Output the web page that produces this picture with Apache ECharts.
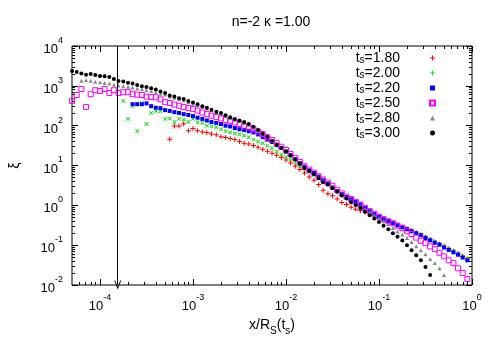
<!DOCTYPE html>
<html><head><meta charset="utf-8">
<script src="https://cdn.jsdelivr.net/npm/echarts@6/dist/echarts.min.js"></script>
<style>html,body{margin:0;padding:0;background:#fff}#c{width:500px;height:350px}</style>
</head><body><div id="c"></div>
<script>
// x / R_S(t_s) sample positions (shared by all series)
const xValues = [
  5.01e-5, 5.62e-5, 6.31e-5, 7.08e-5, 7.94e-5, 8.91e-5,
  1.00e-4, 1.12e-4, 1.26e-4, 1.41e-4, 1.58e-4, 1.78e-4, 2.00e-4, 2.24e-4, 2.51e-4, 2.82e-4,
  3.16e-4, 3.55e-4, 3.98e-4, 4.47e-4, 5.01e-4, 5.62e-4, 6.31e-4, 7.08e-4, 7.94e-4, 8.91e-4,
  1.00e-3, 1.12e-3, 1.26e-3, 1.41e-3, 1.58e-3, 1.78e-3, 2.00e-3, 2.24e-3, 2.51e-3, 2.82e-3,
  3.16e-3, 3.55e-3, 3.98e-3, 4.47e-3, 5.01e-3, 5.62e-3, 6.31e-3, 7.08e-3, 7.94e-3, 8.91e-3,
  1.00e-2, 1.12e-2, 1.26e-2, 1.41e-2, 1.58e-2, 1.78e-2, 2.00e-2, 2.24e-2, 2.51e-2, 2.82e-2,
  3.16e-2, 3.55e-2, 3.98e-2, 4.47e-2, 5.01e-2, 5.62e-2, 6.31e-2, 7.08e-2, 7.94e-2, 8.91e-2,
  0.100, 0.112, 0.126, 0.141, 0.158, 0.178, 0.200, 0.224, 0.251, 0.282,
  0.316, 0.355, 0.398, 0.447, 0.501, 0.562, 0.631, 0.708, 0.794, 0.891
];

const seriesNames = ['1.80', '2.00', '2.20', '2.50', '2.80', '3.00'];

// log10(xi), aligned with xValues (null = no point)
const log10Xi_ts180 = [
  null,null,null,null,null,null,null,null,null,null,
  null,null,null,null,null,null,null,null,null,null,
  null,1.66,1.99,1.99,2.05,1.87,1.93,1.87,1.84,1.83,
  1.79,1.77,1.72,1.70,1.68,1.65,1.60,1.56,1.54,1.50,
  1.46,1.41,1.36,1.31,1.26,1.20,1.14,1.06,0.98,0.90,
  0.81,0.71,0.63,0.52,0.38,0.29,0.24,0.16,0.07,0.02,
  -0.05,-0.10,-0.13,-0.17,-0.21,-0.25,-0.30,-0.35,-0.40,-0.45,
  -0.50,-0.54,-0.59,-0.64,-0.69,-0.74,-0.80,-0.86,-0.92,-0.97,
  -1.03,-1.09,-1.15,-1.21,-1.28,-1.35
];
const log10Xi_ts200 = [
  null,null,null,null,null,null,null,null,null,null,
  null,2.62,2.17,2.49,1.86,2.57,2.04,2.32,2.37,2.36,
  2.17,2.18,2.09,2.17,2.15,2.10,2.17,2.08,2.07,2.00,
  1.98,1.96,1.91,1.86,1.83,1.80,1.78,1.75,1.71,1.65,
  1.60,1.56,1.50,1.43,1.35,1.27,1.21,1.14,1.06,0.98,
  0.91,0.83,0.76,0.67,0.59,0.52,0.44,0.36,0.29,0.22,
  0.15,0.08,0.02,-0.06,-0.14,-0.21,-0.28,-0.34,-0.39,-0.44,
  -0.49,-0.54,-0.59,-0.64,-0.69,-0.74,-0.80,-0.86,-0.92,-0.97,
  -1.03,-1.09,-1.15,-1.21,-1.28,-1.34
];
const log10Xi_ts220 = [
  null,null,null,null,null,null,null,null,null,null,
  null,null,null,2.54,2.54,2.54,2.56,2.49,2.45,2.44,
  2.39,2.37,2.34,2.32,2.29,2.27,2.24,2.20,2.17,2.13,
  2.09,2.07,2.04,2.00,1.98,1.94,1.91,1.89,1.86,1.83,
  1.78,1.71,1.65,1.59,1.51,1.44,1.35,1.26,1.16,1.06,
  0.97,0.88,0.81,0.72,0.63,0.55,0.45,0.36,0.28,0.21,
  0.15,0.09,0.02,-0.07,-0.15,-0.22,-0.29,-0.35,-0.40,-0.45,
  -0.50,-0.55,-0.60,-0.65,-0.70,-0.75,-0.82,-0.88,-0.94,-0.99,
  -1.06,-1.12,-1.18,-1.24,-1.31,-1.38
];
const log10Xi_ts250 = [
  2.62,2.77,2.92,2.47,2.79,2.89,2.87,2.92,2.82,2.89,
  2.82,2.84,2.84,2.79,2.78,2.77,2.73,2.72,2.71,2.66,
  2.59,2.57,2.53,2.50,2.47,2.44,2.42,2.38,2.33,2.29,
  2.25,2.22,2.18,2.14,2.12,2.08,2.04,2.00,1.96,1.91,
  1.85,1.79,1.71,1.64,1.56,1.47,1.39,1.29,1.19,1.09,
  0.98,0.90,0.82,0.73,0.65,0.57,0.49,0.39,0.30,0.22,
  0.16,0.09,0.02,-0.06,-0.14,-0.21,-0.28,-0.34,-0.40,-0.45,
  -0.51,-0.57,-0.65,-0.72,-0.81,-0.89,-0.95,-1.03,-1.10,-1.19,
  -1.28,-1.38,-1.45,-1.58,-1.70,-1.85
];
const log10Xi_ts280 = [
  null,null,3.13,3.14,3.13,3.10,3.09,3.07,3.06,3.03,
  3.01,2.99,2.98,2.96,2.93,2.92,2.89,2.87,2.84,2.80,
  2.78,2.73,2.70,2.67,2.64,2.59,2.55,2.52,2.47,2.43,
  2.39,2.34,2.29,2.24,2.19,2.15,2.12,2.07,2.02,1.95,
  1.88,1.80,1.72,1.63,1.54,1.45,1.36,1.26,1.16,1.06,
  0.96,0.88,0.80,0.71,0.62,0.54,0.46,0.37,0.28,0.20,
  0.12,0.04,-0.02,-0.09,-0.17,-0.25,-0.32,-0.40,-0.47,-0.57,
  -0.66,-0.73,-0.82,-0.92,-1.03,-1.13,-1.23,-1.35,-1.45,-1.58,
  -1.75,null,null,null,null,null
];
const log10Xi_ts300 = [
  3.37,3.35,3.31,3.28,3.30,3.27,3.25,3.24,3.22,3.17,
  3.12,3.11,3.08,3.06,3.02,2.99,2.97,2.94,2.91,2.86,
  2.82,2.76,2.73,2.69,2.67,2.62,2.58,2.54,2.49,2.45,
  2.40,2.35,2.32,2.26,2.21,2.17,2.13,2.09,2.04,1.97,
  1.89,1.80,1.72,1.62,1.53,1.44,1.35,1.25,1.15,1.04,
  0.94,0.86,0.78,0.68,0.58,0.52,0.43,0.34,0.25,0.17,
  0.08,0.01,-0.07,-0.16,-0.25,-0.33,-0.42,-0.51,-0.60,-0.70,
  -0.79,-0.88,-1.00,-1.13,-1.25,-1.38,-1.55,-1.75,null,null,
  null,null,null,null,null,null
];

const xTickValues = [1e-4, 1e-3, 1e-2, 1e-1, 1];
const yTickValues = [1e-2, 1e-1, 1, 10, 100, 1000, 10000];
const arrowX = 1.55e-4;
const titleText = 'n=-2 \u03ba =1.00';

const FONT = '"Liberation Sans", Arial, Helvetica, sans-serif';

function toPairs(arr) {
  const out = [];
  arr.forEach((v, i) => { if (v !== null) out.push([xValues[i], Math.pow(10, v)]); });
  return out;
}
function minorTicks(lo, hi, eLo, eHi) {
  const out = [];
  for (let e = eLo; e <= eHi; e++) for (let m = 2; m <= 9; m++) {
    const v = m * Math.pow(10, e);
    if (v > lo * 1.001 && v < hi * 0.999) out.push(v);
  }
  return out;
}
const xMinor = minorTicks(5e-5, 1, -5, -1);
const yMinor = minorTicks(1e-2, 1e4, -2, 3);

const supRich = {
  b: { fontSize: 13, fontFamily: FONT, color: '#000', lineHeight: 20, verticalAlign: 'bottom' },
  s: { fontSize: 9, fontFamily: FONT, color: '#000', lineHeight: 8, verticalAlign: 'top' }
};
function powLabel(v) {
  const e = Math.round(Math.log10(v));
  return '{b|10}{s|' + e + '}';
}

const plusPath = 'path://M4,0h2v4h4v2h-4v4h-2v-4h-4v-2h4z';

const seriesStyles = [
  { data: log10Xi_ts180, symbol: plusPath, size: 5, rotate: 0, item: { color: '#ff0000' } },
  { data: log10Xi_ts200, symbol: plusPath, size: 5, rotate: 45, item: { color: '#20e020' } },
  { data: log10Xi_ts220, symbol: 'rect', size: 4, rotate: 0, item: { color: '#0000ff' } },
  { data: log10Xi_ts250, symbol: 'rect', size: 5, rotate: 0, item: { color: 'rgba(255,255,255,0)', borderColor: '#ff00ff', borderWidth: 1 } },
  { data: log10Xi_ts280, symbol: 'triangle', size: 4, rotate: 0, item: { color: '#888888' } },
  { data: log10Xi_ts300, symbol: 'circle', size: 4, rotate: 0, item: { color: '#000000' } }
];

const series = seriesStyles.map((s, k) => ({
  name: 't_s=' + seriesNames[k],
  type: 'scatter',
  xAxisIndex: 0, yAxisIndex: 0,
  symbol: s.symbol,
  symbolSize: s.size,
  symbolRotate: s.rotate,
  itemStyle: Object.assign({ opacity: 1 }, s.item),
  emphasis: { disabled: true },
  data: toPairs(s.data)
}));

series[series.length - 1].markLine = {
  silent: true,
  symbol: ['none', 'path://M5,0 L10,10 L8.6,10 L5,2.8 L1.4,10 L0,10 Z'],
  symbolSize: [7, 9],
  label: { show: false },
  lineStyle: { color: '#000', width: 1, type: 'solid' },
  emphasis: { disabled: true },
  data: [[{ coord: [arrowX, 1e4] }, { coord: [arrowX, 1e-2] }]]
};

function logAxis(extra) {
  return Object.assign({
    type: 'log', logBase: 10,
    splitLine: { show: false },
    axisLine: { show: false },
    axisLabel: { show: false },
    axisTick: { show: false },
    axisPointer: { show: false }
  }, extra);
}

const xMin = 5e-5, xMax = 1, yMin = 1e-2, yMax = 1e4;

const option = {
  animation: false,
  backgroundColor: '#ffffff',
  title: {
    text: titleText, left: 271, top: 15, textAlign: 'center', padding: 0,
    textStyle: { fontFamily: FONT, fontSize: 14, fontWeight: 'normal', color: '#000' }
  },
  grid: { left: 66, right: 28, top: 46, bottom: 65, show: true, borderColor: '#000', borderWidth: 1, containLabel: false },
  legend: {
    orient: 'vertical', align: 'right', right: 64, top: 51, padding: 0,
    itemWidth: 5, itemHeight: 5, itemGap: 1,
    selectedMode: false,
    formatter: name => '{t|t}{sub|s}{t|' + name.slice(3) + '}',
    textStyle: {
      color: '#000', fontFamily: FONT, padding: [0, 25, 0, 0],
      rich: {
        t: { fontSize: 14, fontFamily: FONT, color: '#000', lineHeight: 14, verticalAlign: 'top' },
        sub: { fontSize: 10, fontFamily: FONT, color: '#000', lineHeight: 4, verticalAlign: 'bottom' }
      }
    },
    data: series.map(s => s.name)
  },
  xAxis: [
    logAxis({
      position: 'bottom', min: xMin, max: xMax,
      name: '{m|x/R}{d|S}{m|(t}{d|s}{m|)}', nameLocation: 'middle', nameGap: 19,
      nameTextStyle: {
        rich: {
          m: { fontSize: 14, fontFamily: FONT, color: '#000', lineHeight: 18, verticalAlign: 'top' },
          d: { fontSize: 10, fontFamily: FONT, color: '#000', lineHeight: 8, verticalAlign: 'bottom' }
        }
      },
      axisTick: { show: true, inside: true, length: 6, lineStyle: { color: '#000' }, customValues: xTickValues },
      axisLabel: { show: true, margin: 8, customValues: xTickValues, formatter: powLabel, rich: supRich }
    }),
    logAxis({ position: 'bottom', min: xMin, max: xMax,
      axisTick: { show: true, inside: true, length: 3, lineStyle: { color: '#000' }, customValues: xMinor } }),
    logAxis({ position: 'top', min: xMin, max: xMax,
      axisTick: { show: true, inside: true, length: 6, lineStyle: { color: '#000' }, customValues: xTickValues } }),
    logAxis({ position: 'top', min: xMin, max: xMax,
      axisTick: { show: true, inside: true, length: 3, lineStyle: { color: '#000' }, customValues: xMinor } })
  ],
  yAxis: [
    logAxis({
      position: 'left', min: yMin, max: yMax,
      name: '\u03be', nameLocation: 'middle', nameGap: 50, nameRotate: 90,
      nameTextStyle: { fontSize: 14, fontFamily: FONT, color: '#000' },
      axisTick: { show: true, inside: true, length: 6, lineStyle: { color: '#000' }, customValues: yTickValues },
      axisLabel: { show: true, margin: 9, customValues: yTickValues, formatter: powLabel, rich: supRich }
    }),
    logAxis({ position: 'left', min: yMin, max: yMax,
      axisTick: { show: true, inside: true, length: 3, lineStyle: { color: '#000' }, customValues: yMinor } }),
    logAxis({ position: 'right', min: yMin, max: yMax,
      axisTick: { show: true, inside: true, length: 6, lineStyle: { color: '#000' }, customValues: yTickValues } }),
    logAxis({ position: 'right', min: yMin, max: yMax,
      axisTick: { show: true, inside: true, length: 3, lineStyle: { color: '#000' }, customValues: yMinor } })
  ],
  series: series
};

const chart = echarts.init(document.getElementById('c'), null, { renderer: 'canvas', width: 500, height: 350 });
chart.setOption(option);
</script>
</body></html>
